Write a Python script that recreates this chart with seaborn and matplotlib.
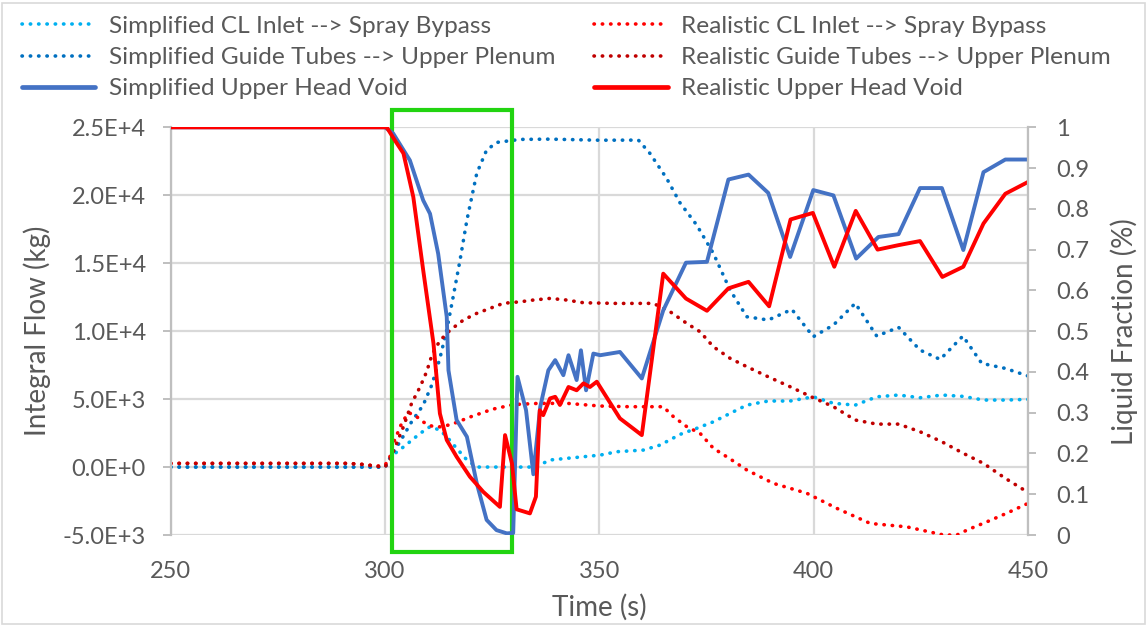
import matplotlib
matplotlib.use("Agg")
import matplotlib.pyplot as plt
import seaborn as sns
import numpy as np
from matplotlib.lines import Line2D
from matplotlib.patches import Rectangle

# ---------------- data ----------------
sim_cl_t = [250, 300, 302.3, 303.9, 305.8, 308.2, 310.5, 312.8, 314.4, 316.7, 319.1, 321.4, 335, 338.5, 342.4,
            350.2, 354.1, 360.3, 364.2, 368.8, 372.7, 376.6, 380.5, 384.4, 389.4, 394.5, 399.9, 404.6, 409.7,
            414.7, 419.8, 424.8, 429.9, 434.9, 439.6, 444.7, 450]
sim_cl_v = [0, 0, 1000, 1380, 1860, 2480, 2970, 2720, 2230, 1380, 520, 0, 0, 520, 640,
            880, 1130, 1250, 1620, 2400, 2850, 3330, 3950, 4560, 4860, 4860, 5170, 4690, 4560,
            5170, 5300, 5100, 5300, 5200, 4930, 4930, 4980]

sim_gt_t = [250, 300, 301.5, 303.5, 306.2, 308.9, 310.9, 312.8, 314.4, 315.9, 317.5, 319.1, 321.4, 323.7, 326.1,
            331.5, 338.5, 350, 359.1, 361.8, 365.7, 368.8, 372.7, 376.6, 380.5, 384.4, 389.4, 394.9, 399.9,
            404.6, 409.7, 414.7, 419.8, 424.8, 429.5, 434.8, 439.2, 444.7, 450]
sim_gt_v = [0, 0, 900, 1860, 3330, 4560, 6030, 8000, 10080, 12530, 15230, 18170, 21610, 23330, 23890,
            24110, 24130, 24050, 24060, 23080, 21240, 19450, 17810, 15720, 13020, 11060, 10820, 11600, 9590,
            10450, 12050, 9640, 10280, 8610, 7920, 9640, 7630, 7260, 6700]

real_cl_t = [250, 291, 294, 296, 298, 300, 301, 302, 304, 305.5, 307, 309, 311, 313.2, 316, 320, 325, 330,
             335.4, 342.4, 350.2, 357, 364.9, 367.3, 370.4, 373.5, 376.6, 380.5, 384.4, 390.6, 398.4, 405.4,
             413.2, 421.7, 426, 430.3, 433.4, 436, 440.4, 445, 450]
real_cl_v = [270, 270, 220, 150, 60, 150, 600, 1800, 3300, 4000, 3800, 3300, 3000, 2950, 3200, 3700, 4250, 4600,
             4680, 4690, 4490, 4440, 4440, 3700, 2970, 2480, 1380, 600, -220, -1200, -1930, -3040,
             -4150, -4400, -4700, -5000, -5000, -4600, -4030, -3400, -2670]

real_gt_t = [250, 291, 294, 296, 298, 300, 301.2, 302.7, 304.3, 306.2, 308.2, 309.7, 311, 312.8, 315.2, 318.3,
             321.4, 324.5, 327.6, 331.5, 334.6, 338.5, 342.4, 346.3, 354.1, 362.6, 366.5, 370.4, 373.5, 376.6,
             380.5, 384.4, 389.4, 394.5, 399.9, 404.6, 409.7, 414.7, 419.8, 424.8, 429.9, 434.9, 439.6, 444.7, 450]
real_gt_v = [270, 270, 220, 150, 60, 0, 570, 1740, 2970, 4690, 5910, 7010, 8300, 9300, 10080, 10820,
             11310, 11680, 12050, 12160, 12290, 12410, 12290, 12090, 12040, 12045, 11430, 10570, 9955, 8850,
             8000, 7385, 6640, 5910, 5100, 4440, 3460, 3160, 3160, 2600, 1860, 1010, 270, -830, -1870]

sim_uhv_t = [250, 300, 301.9, 305.8, 308.9, 310.5, 312.4, 314.4, 314.8, 316.7, 319.1, 321.4, 323.7, 326, 328.4,
             329.9, 330.9, 332.9, 334.6, 336.2, 338.1, 339.7, 341.6, 342.8, 344.7, 345.7, 346.9, 348.6, 350.2,
             354.8, 359.9, 364.9, 370.2, 375.1, 380.1, 384.8, 389.4, 394.5, 399.9, 404.6, 409.9, 415.1, 419.8,
             424.8, 429.9, 434.9, 439.6, 444.7, 450]
sim_uhv_v = [1, 1, 0.985, 0.919, 0.821, 0.788, 0.69, 0.535, 0.404, 0.282, 0.241, 0.127, 0.037, 0.012, 0.004,
             0.005, 0.388, 0.306, 0.149, 0.314, 0.404, 0.429, 0.392, 0.441, 0.38, 0.453, 0.355, 0.445, 0.441,
             0.449, 0.384, 0.551, 0.668, 0.67, 0.872, 0.884, 0.839, 0.682, 0.846, 0.833, 0.678, 0.731, 0.738,
             0.851, 0.851, 0.699, 0.89, 0.921, 0.921]

real_uhv_t = [250, 300.4, 302.3, 304.3, 306.6, 308.9, 311.3, 312.8, 314.4, 316.7, 319.8, 322.9, 326.8, 328,
              329.6, 330.7, 333.8, 335.2, 336.1, 336.9, 338.5, 339.7, 340.8, 342.8, 344.7, 346.3, 347.8, 349.4,
              354.8, 359.9, 364.9, 370.2, 375.1, 380.1, 384.8, 389.6, 394.6, 399.8, 404.8, 409.8, 414.9, 419.8,
              424.8, 430, 434.9, 439.6, 444.7, 450]
real_uhv_v = [1, 1, 0.968, 0.936, 0.829, 0.65, 0.47, 0.298, 0.233, 0.192, 0.143, 0.106, 0.069, 0.245,
              0.176, 0.063, 0.053, 0.094, 0.306, 0.294, 0.335, 0.339, 0.319, 0.363, 0.355, 0.372, 0.363, 0.376,
              0.286, 0.245, 0.641, 0.58, 0.55, 0.605, 0.621, 0.561, 0.774, 0.79, 0.658, 0.795, 0.70, 0.711,
              0.721, 0.633, 0.658, 0.764, 0.837, 0.866]

labels = ["Simplified CL Inlet --> Spray Bypass", "Simplified Guide Tubes --> Upper Plenum",
          "Simplified Upper Head Void", "Realistic CL Inlet --> Spray Bypass",
          "Realistic Guide Tubes --> Upper Plenum", "Realistic Upper Head Void"]

highlight_window = (301.6, 329.6)

x_ticks = [250, 300, 350, 400, 450]
y_ticks = [-5000, 0, 5000, 10000, 15000, 20000, 25000]
y_ticklabels = ["-5.0E+3", "0.0E+0", "5.0E+3", "1.0E+4", "1.5E+4", "2.0E+4", "2.5E+4"]
y2_ticks = [0, 0.1, 0.2, 0.3, 0.4, 0.5, 0.6, 0.7, 0.8, 0.9, 1]
y2_ticklabels = ["0", "0.1", "0.2", "0.3", "0.4", "0.5", "0.6", "0.7", "0.8", "0.9", "1"]

# ---------------- style ----------------
sns.set_theme(style="white")
plt.rcParams['font.family'] = ['Lato', 'DejaVu Sans']
TXT = "#595959"
GRID = "#D9D9D9"
AX = "#BFBFBF"
FS_TICK = 17
FS_LABEL = 20
FS_LEG = 17.6

c_lblue = "#00B0F0"
c_blue = "#0070C0"
c_bsolid = "#4472C4"
c_red = "#FF0000"
c_dred = "#C00000"

dot = (0, (0.1, 2.2))
LW_DOT = 2.6
LW_SOLID = 2.8

fig = plt.figure(figsize=(11.47, 6.25), dpi=100)
ax = fig.add_axes([0.1488, 0.144, 0.8963 - 0.1488, 0.7963 - 0.144])
ax2 = ax.twinx()

dot_kw = dict(linestyle=dot, linewidth=LW_DOT, dash_capstyle="round")
sns.lineplot(x=sim_cl_t, y=sim_cl_v, ax=ax, color=c_lblue, **dot_kw)
sns.lineplot(x=sim_gt_t, y=sim_gt_v, ax=ax, color=c_blue, **dot_kw)
sns.lineplot(x=real_cl_t, y=real_cl_v, ax=ax, color=c_red, **dot_kw)
sns.lineplot(x=real_gt_t, y=real_gt_v, ax=ax, color=c_dred, **dot_kw)

sns.lineplot(x=sim_uhv_t, y=sim_uhv_v, ax=ax2, color=c_bsolid, linewidth=LW_SOLID)
sns.lineplot(x=real_uhv_t, y=real_uhv_v, ax=ax2, color=c_red, linewidth=LW_SOLID)

ax.set_xlim(250, 450)
ax.set_ylim(-5000, 25000)
ax2.set_ylim(0, 1)

ax.set_xticks(x_ticks)
ax.set_xticklabels([str(v) for v in x_ticks])
ax.set_yticks(y_ticks)
ax.set_yticklabels(y_ticklabels)
ax2.set_yticks(y2_ticks)
ax2.set_yticklabels(y2_ticklabels)

ax.grid(True, color=GRID, linewidth=1.6)
ax.set_axisbelow(True)
ax2.grid(False)

for a in (ax, ax2):
    for s in ("top", "bottom"):
        a.spines[s].set_visible(False)
    a.spines["left"].set_color(AX)
    a.spines["right"].set_color(AX)
    a.spines["left"].set_linewidth(1.6)
    a.spines["right"].set_linewidth(1.6)
ax.spines["right"].set_visible(False)
ax2.spines["left"].set_visible(False)

ax.tick_params(axis="y", which="both", direction="out", length=6, width=1.4, color=AX,
               labelsize=FS_TICK, labelcolor=TXT, pad=12, left=True)
ax.tick_params(axis="x", length=0, labelsize=FS_TICK, labelcolor=TXT, pad=19)
ax2.tick_params(axis="y", direction="out", length=6, width=1.4, color=AX,
                labelsize=FS_TICK, labelcolor=TXT, pad=14, right=True)

ax.set_xlabel("Time (s)", fontsize=FS_LABEL, color=TXT, labelpad=8)
ax.set_ylabel("Integral Flow (kg)", fontsize=FS_LABEL, color=TXT, labelpad=8)
ax2.set_ylabel("Liquid Fraction (%)", fontsize=FS_LABEL, color=TXT, labelpad=15)

# highlight box
ax.add_patch(Rectangle((highlight_window[0], -6250), highlight_window[1] - highlight_window[0], 6250 + 26250,
                       fill=False, edgecolor="#22D411", linewidth=3.0, clip_on=False, zorder=10))

# legend
handles = [
    Line2D([], [], color=c_lblue, **dot_kw),
    Line2D([], [], color=c_blue, **dot_kw),
    Line2D([], [], color=c_bsolid, linewidth=LW_SOLID + 0.6),
    Line2D([], [], color=c_red, **dot_kw),
    Line2D([], [], color=c_dred, **dot_kw),
    Line2D([], [], color=c_red, linewidth=LW_SOLID + 0.6),
]
leg = fig.legend(handles, labels, ncol=2, loc="upper left", bbox_to_anchor=(0.0192, 0.975),
                 frameon=False, fontsize=FS_LEG, handlelength=3.0, handletextpad=0.55,
                 columnspacing=1.6, labelspacing=0.42, borderaxespad=0, borderpad=0)
for t in leg.get_texts():
    t.set_color(TXT)

fig.patches.append(Rectangle((0.002, 0.002), 0.996, 0.994, transform=fig.transFigure, fill=False,
                             edgecolor="#D9D9D9", linewidth=1.2))

fig.savefig("out.png", dpi=100, facecolor="white")
